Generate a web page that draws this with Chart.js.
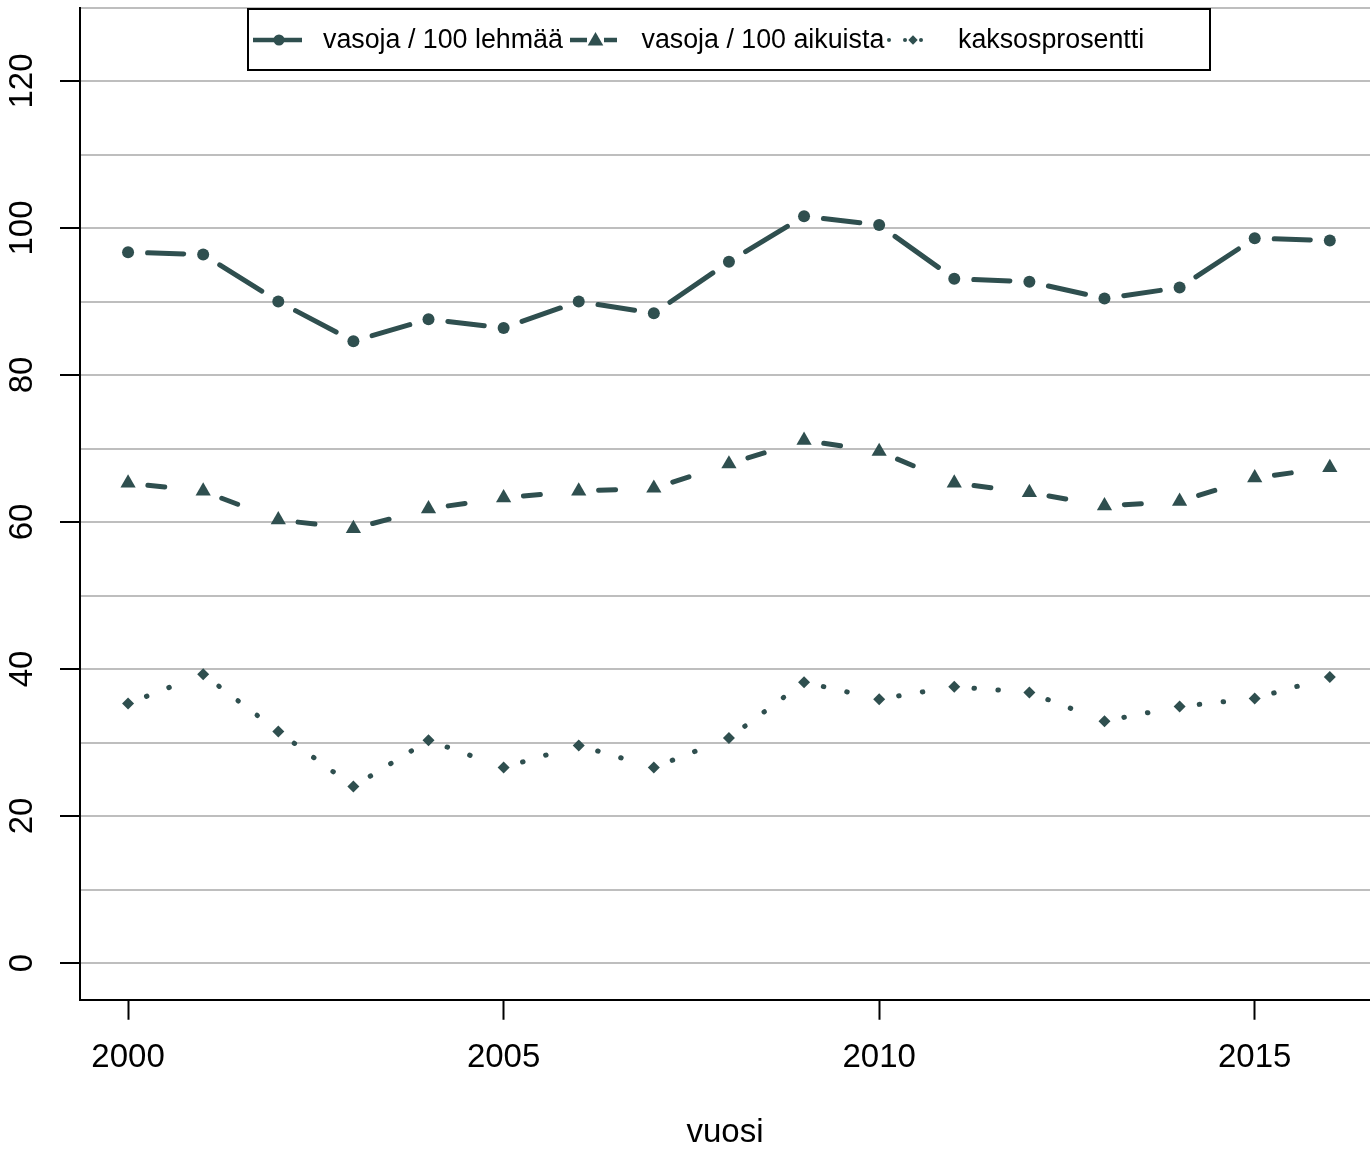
<!DOCTYPE html>
<html>
<head>
<meta charset="utf-8">
<script src="https://cdn.jsdelivr.net/npm/chart.js@4.4.1/dist/chart.umd.min.js"></script>
<style>
html,body{margin:0;padding:0;background:#fff;}
canvas{display:block;}
</style>
</head>
<body>
<canvas id="c" width="1370" height="1149"></canvas>
<script>
// ---- data ----
const years = [2000,2001,2002,2003,2004,2005,2006,2007,2008,2009,2010,2011,2012,2013,2014,2015,2016];
const vasojaLehmaa   = [96.7, 96.4, 90.0, 84.6, 87.6, 86.4, 90.0, 88.4, 95.4, 101.6, 100.4, 93.1, 92.7, 90.4, 91.9, 98.6, 98.3];
const vasojaAikuista = [65.3, 64.2, 60.3, 59.1, 61.8, 63.3, 64.2, 64.6, 67.9, 71.1, 69.6, 65.3, 64.0, 62.2, 62.8, 66.0, 67.4];
const kaksosprosentti = [35.3, 39.3, 31.5, 24.0, 30.3, 26.6, 29.6, 26.6, 30.6, 38.2, 35.9, 37.6, 36.8, 32.9, 34.9, 36.0, 38.9];
const seriesNames = ['vasoja / 100 lehmää', 'vasoja / 100 aikuista', 'kaksosprosentti'];
const xTickValues = [2000, 2005, 2010, 2015];
const yLabelValues = [0, 20, 40, 60, 80, 100, 120];
const yGridValues = [0, 10, 20, 30, 40, 50, 60, 70, 80, 90, 100, 110, 120, 130];
const xTitle = 'vuosi';

// ---- style ----
const COLOR = '#2F4F4F';
const FONT = '"Liberation Sans", Arial, Helvetica, sans-serif';
Chart.defaults.font.family = FONT;

function segLen(c) { return Math.hypot(c.p1.x - c.p0.x, c.p1.y - c.p0.y); }
// dash pattern restarting on every segment, leaving gaps around the points (R type="b")
function buildDash(L, s, on, period, endGap) {
  const e = L - endGap;
  if (on === null) on = Math.max(e - s, 0.5);
  const starts = [];
  for (let p = s; p + on <= e + 0.01; p += period) {
    starts.push(p);
    if (!isFinite(period)) break;
  }
  if (!starts.length) starts.push(s);
  const dash = [];
  for (let i = 0; i < starts.length; i++) {
    const next = (i + 1 < starts.length) ? starts[i + 1] : s + L;
    dash.push(on, Math.max(next - starts[i] - on, 0.01));
  }
  return { dash, offset: L - s };
}
function segStyle(s, on, period, endGap) {
  return {
    borderDash: c => buildDash(segLen(c), s, on, period, endGap).dash,
    borderDashOffset: c => buildDash(segLen(c), s, on, period, endGap).offset
  };
}

function ds(label, values, pointStyle, radius, segment) {
  return {
    label,
    data: years.map((x, i) => ({ x, y: values[i] })),
    borderColor: COLOR,
    backgroundColor: COLOR,
    borderWidth: 5,
    borderCapStyle: 'round',
    borderJoinStyle: 'round',
    pointStyle,
    pointRadius: radius,
    pointHoverRadius: radius,
    pointBackgroundColor: COLOR,
    pointBorderColor: COLOR,
    pointBorderWidth: 0,
    tension: 0,
    fill: false,
    segment
  };
}

function drawMarker(ctx, style, x, y, r) {
  ctx.beginPath();
  if (style === 'circle') {
    ctx.arc(x, y, r, 0, Math.PI * 2);
  } else if (style === 'triangle') {
    for (let k = 0; k < 3; k++) {
      const a = k * 2 * Math.PI / 3;
      const px = x + Math.sin(a) * r, py = y - Math.cos(a) * r;
      if (k === 0) ctx.moveTo(px, py); else ctx.lineTo(px, py);
    }
    ctx.closePath();
  } else {
    ctx.moveTo(x - r, y); ctx.lineTo(x, y - r); ctx.lineTo(x + r, y); ctx.lineTo(x, y + r);
    ctx.closePath();
  }
  ctx.fill();
}

const legendPlugin = {
  id: 'rLegend',
  afterDraw(chart) {
    const ctx = chart.ctx;
    ctx.save();
    ctx.fillStyle = '#fff';
    ctx.fillRect(248, 9, 962, 61);
    ctx.strokeStyle = '#000';
    ctx.lineWidth = 2;
    ctx.strokeRect(248, 9, 962, 61);
    const y = 40;
    ctx.strokeStyle = COLOR;
    ctx.fillStyle = COLOR;
    ctx.lineWidth = 4.5;
    ctx.lineCap = 'butt';
    // entry 1: long dash + circle
    ctx.beginPath(); ctx.moveTo(253, y); ctx.lineTo(302, y); ctx.stroke();
    drawMarker(ctx, 'circle', 279, y, 5.5);
    // entry 2: dashes + triangle
    ctx.beginPath(); ctx.moveTo(570, y); ctx.lineTo(587, y); ctx.moveTo(604, y); ctx.lineTo(617, y); ctx.stroke();
    drawMarker(ctx, 'triangle', 595.5, y + 1, 9);
    // entry 3: dots + diamond
    [889, 905, 921].forEach(px => drawMarker(ctx, 'circle', px, y, 2));
    drawMarker(ctx, 'diamond', 913, y, 4.7);
    // texts
    ctx.fillStyle = '#000';
    ctx.font = '26.8px ' + FONT;
    ctx.textBaseline = 'middle';
    ctx.textAlign = 'left';
    ctx.fillText(seriesNames[0], 323, y + 1);
    ctx.fillText(seriesNames[1], 641.5, y + 1);
    ctx.fillText(seriesNames[2], 958, y + 1);
    ctx.restore();
  }
};

new Chart(document.getElementById('c'), {
  type: 'line',
  data: {
    datasets: [
      ds(seriesNames[0], vasojaLehmaa, 'circle', 6, segStyle(19.5, null, Infinity, 19.5)),
      ds(seriesNames[1], vasojaAikuista, 'triangle', 8.8, segStyle(19.9, 17, Infinity, 19.5)),
      ds(seriesNames[2], kaksosprosentti, 'rectRot', 6, segStyle(19.75, 0.5, 24, 17))
    ]
  },
  options: {
    responsive: false,
    devicePixelRatio: 1,
    animation: false,
    events: [],
    layout: { autoPadding: false, padding: { top: 7.5, right: 0, bottom: 0, left: 0 } },
    plugins: { legend: { display: false }, tooltip: { enabled: false } },
    scales: {
      x: {
        type: 'linear',
        min: 1999.36,
        max: 2016.535,
        afterBuildTicks: s => { s.ticks = xTickValues.map(v => ({ value: v })); },
        ticks: {
          callback: v => String(v),
          font: { size: 33, lineHeight: 1.2 },
          color: '#000',
          padding: 18,
          minRotation: 0,
          maxRotation: 0,
          autoSkip: false
        },
        grid: { drawOnChartArea: false, drawTicks: true, tickLength: 20, tickWidth: 2, tickColor: '#000' },
        border: { display: true, color: '#000', width: 2 },
        title: { display: true, text: xTitle, color: '#000', font: { size: 33, lineHeight: 1 }, padding: { top: 0, bottom: 0 } },
        afterFit: s => { s.height = 149.25; s.paddingLeft = 0; s.paddingRight = 0; }
      },
      y: {
        type: 'linear',
        min: -5,
        max: 130,
        afterBuildTicks: s => { s.ticks = yGridValues.map(v => ({ value: v })); },
        ticks: {
          callback: v => yLabelValues.includes(v) ? String(v) : '',
          font: { size: 33, lineHeight: 1.2 },
          color: '#000',
          padding: 9.2,
          minRotation: 90,
          maxRotation: 90,
          crossAlign: 'center',
          autoSkip: false
        },
        grid: {
          color: '#BEBEBE',
          lineWidth: 2,
          drawTicks: true,
          tickLength: 20,
          tickWidth: 2,
          tickColor: c => (c.tick && yLabelValues.includes(c.tick.value)) ? '#000' : 'rgba(0,0,0,0)'
        },
        border: { display: true, color: '#000', width: 2 },
        afterFit: s => { s.width = 80; s.paddingTop = 0; s.paddingBottom = 0; }
      }
    }
  },
  plugins: [legendPlugin]
});
</script>
</body>
</html>
